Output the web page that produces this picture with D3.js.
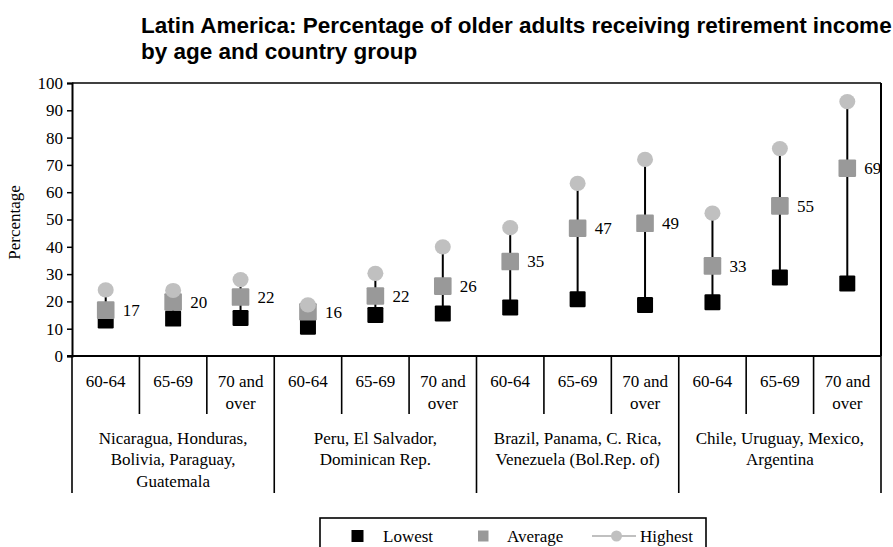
<!DOCTYPE html>
<html>
<head>
<meta charset="utf-8">
<script src="https://cdn.jsdelivr.net/npm/d3@7"></script>
<style>
  html, body { margin: 0; padding: 0; background: #fff; }
  svg { display: block; }
</style>
</head>
<body>
<svg id="chart" width="893" height="547"></svg>
<script>
// ---------- data ----------
const titleLines = [
  "Latin America: Percentage of older adults receiving retirement income",
  "by age and country group"
];
const countryGroups = [
  ["Nicaragua, Honduras,", "Bolivia, Paraguay,", "Guatemala"],
  ["Peru, El Salvador,", "Dominican Rep."],
  ["Brazil, Panama, C. Rica,", "Venezuela (Bol.Rep. of)"],
  ["Chile, Uruguay, Mexico,", "Argentina"]
];
const ageGroups = [["60-64"], ["65-69"], ["70 and", "over"]];
const lowest  = [13, 13.7, 13.9, 10.7, 15, 15.6, 17.8, 20.8, 18.7, 19.7, 28.8, 26.6];
const average = [16.8, 19.8, 21.6, 16.2, 22, 25.6, 34.6, 46.8, 48.6, 33, 55, 68.8];
const highest = [24.2, 24, 28, 18.7, 30.3, 40, 47, 63.2, 72, 52.3, 76, 93.2];
const yTicks = [0, 10, 20, 30, 40, 50, 60, 70, 80, 90, 100];
const yLabel = "Percentage";
const legendItems = ["Lowest", "Average", "Highest"];

(function () {
// ---------- layout ----------
const svg = d3.select("#chart");
const pLeft = 72, pRight = 881, pTop = 83, pBottom = 356;
const colLow = "#000000", colAvg = "#999999", colHigh = "#c0c0c0";
const SERIF = "'Liberation Serif', 'Times New Roman', Times, 'DejaVu Serif', serif";
const serif = sel => sel.style("font-family", SERIF).style("font-size", "17px").style("fill", "#000");

const cats = [];
countryGroups.forEach((g, gi) => ageGroups.forEach((a, ai) => cats.push({gi, ai, key: gi + "-" + ai})));
const rows = cats.map((c, i) => ({...c, low: lowest[i], avg: average[i], high: highest[i]}));

const x = d3.scaleBand().domain(cats.map(c => c.key)).range([pLeft, pRight]).paddingInner(0).paddingOuter(0);
const y = d3.scaleLinear().domain([0, 100]).range([pBottom, pTop]);

// title
const title = svg.append("text")
  .style("font-family", "'Liberation Sans', Arial, Helvetica, sans-serif")
  .style("font-weight", "bold").style("font-size", "22.5px");
titleLines.forEach((t, i) => title.append("tspan").attr("x", 141).attr("y", 33.3 + i * 26).text(t));

// plot frame
svg.append("line").attr("x1", pLeft).attr("x2", pRight).attr("y1", pTop).attr("y2", pTop)
  .attr("stroke", "#000").attr("stroke-width", 1.6);
svg.append("line").attr("x1", pRight).attr("x2", pRight).attr("y1", pTop).attr("y2", pBottom)
  .attr("stroke", "#000").attr("stroke-width", 2);

// y axis
const yAxis = svg.append("g").attr("transform", `translate(${pLeft},0)`)
  .call(d3.axisLeft(y).tickValues(yTicks).tickSize(5).tickPadding(4).tickFormat(d3.format("d")));
yAxis.select(".domain").attr("stroke-width", 2);
yAxis.selectAll(".tick line").attr("stroke-width", 1.5);
yAxis.attr("font-family", null).attr("font-size", null);
serif(yAxis.selectAll(".tick text"));

serif(svg.append("text"))
  .attr("transform", `translate(20,${(pTop + pBottom) / 2 + 3}) rotate(-90)`)
  .attr("text-anchor", "middle").text(yLabel);

// x axis line
svg.append("line").attr("x1", pLeft - 5).attr("x2", pRight).attr("y1", pBottom).attr("y2", pBottom)
  .attr("stroke", "#000").attr("stroke-width", 2);

// separators
const bounds = d3.range(cats.length + 1).map(i => i === cats.length ? pRight : x(cats[i].key));
svg.append("g").selectAll("line").data(bounds).join("line")
  .attr("x1", d => d).attr("x2", d => d)
  .attr("y1", pBottom)
  .attr("y2", (d, i) => i % ageGroups.length === 0 ? 493 : 414)
  .attr("stroke", "#000").attr("stroke-width", 1.6);

// age labels
const ageG = svg.append("g");
rows.forEach(r => {
  const t = serif(ageG.append("text")).attr("text-anchor", "middle");
  ageGroups[r.ai].forEach((line, li) => t.append("tspan")
    .attr("x", x(r.key) + x.bandwidth() / 2).attr("y", 387 + li * 21.5).text(line));
});

// country group labels
countryGroups.forEach((g, gi) => {
  const gx = (bounds[gi * 3] + bounds[gi * 3 + 3]) / 2;
  const t = serif(svg.append("text")).attr("text-anchor", "middle");
  g.forEach((line, li) => t.append("tspan").attr("x", gx).attr("y", 443.5 + li * 21.8).text(line));
});

// high-low lines
const cx = d => x(d.key) + x.bandwidth() / 2;
svg.append("g").selectAll("line").data(rows).join("line")
  .attr("x1", cx).attr("x2", cx).attr("y1", d => y(d.low)).attr("y2", d => y(d.high))
  .attr("stroke", "#000").attr("stroke-width", 2);

// lowest markers
svg.append("g").selectAll("rect").data(rows).join("rect")
  .attr("x", d => cx(d) - 8).attr("y", d => y(d.low) - 8)
  .attr("width", 16).attr("height", 16).attr("rx", 1.2)
  .attr("fill", colLow);

// average markers
svg.append("g").selectAll("rect").data(rows).join("rect")
  .attr("x", d => cx(d) - 8.8).attr("y", d => y(d.avg) - 8.8)
  .attr("width", 17.6).attr("height", 17.6).attr("rx", 1.2)
  .attr("fill", colAvg);

// highest markers
svg.append("g").selectAll("ellipse").data(rows).join("ellipse")
  .attr("cx", cx).attr("cy", d => y(d.high))
  .attr("rx", 8).attr("ry", 7.6)
  .attr("fill", colHigh);

// value labels
serif(svg.append("g").selectAll("text").data(rows).join("text"))
  .attr("x", d => cx(d) + 17).attr("y", d => y(d.avg))
  .attr("dy", "0.35em")
  .text(d => Math.round(d.avg));

// legend
const lg = svg.append("g");
lg.append("rect").attr("x", 320).attr("y", 518).attr("width", 386).attr("height", 40)
  .attr("fill", "#fff").attr("stroke", "#000").attr("stroke-width", 1.6);
lg.append("rect").attr("x", 351.5).attr("y", 530).attr("width", 12).attr("height", 12).attr("fill", colLow);
serif(lg.append("text")).attr("x", 383).attr("y", 541.5).text(legendItems[0]);
lg.append("rect").attr("x", 478).attr("y", 530.5).attr("width", 10.5).attr("height", 11).attr("fill", colAvg);
serif(lg.append("text")).attr("x", 507).attr("y", 541.5).text(legendItems[1]);
lg.append("line").attr("x1", 592).attr("x2", 636).attr("y1", 536).attr("y2", 536)
  .attr("stroke", colHigh).attr("stroke-width", 2);
lg.append("circle").attr("cx", 616.5).attr("cy", 536).attr("r", 5.5).attr("fill", colHigh);
serif(lg.append("text")).attr("x", 640).attr("y", 541.5).text(legendItems[2]);
})();
</script>
</body>
</html>
